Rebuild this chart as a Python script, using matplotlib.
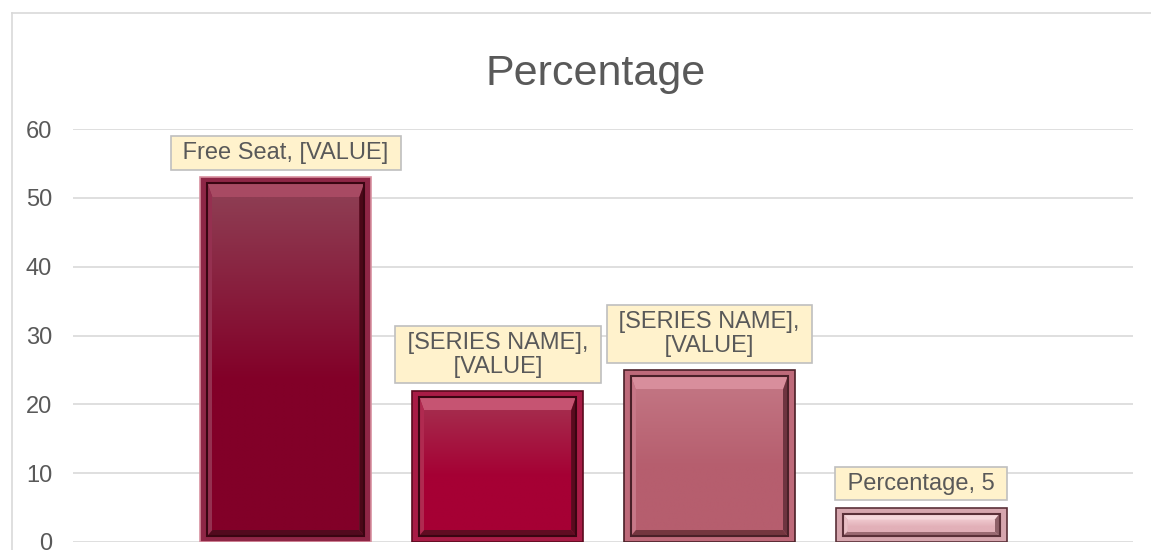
import matplotlib
matplotlib.use('Agg')
import matplotlib.pyplot as plt
import numpy as np
from matplotlib.patches import Rectangle, Polygon
from matplotlib.colors import to_rgb
from matplotlib.lines import Line2D

plt.rcParams['font.family'] = ['Liberation Sans', 'DejaVu Sans']

# ---- data ----
title = 'Percentage'
categories = ['Free Seat', 'Series 2', 'Series 3', 'Percentage']
values = [53, 22, 25, 5]
labels = ['Free Seat, [VALUE]', '[SERIES NAME],\n[VALUE]', '[SERIES NAME],\n[VALUE]', 'Percentage, 5']
yticks = [0, 10, 20, 30, 40, 50, 60]

# ---- styles ----
styles = [
    dict(frame='#8E2646', edge='#D890A0', outline='#3A0512', top='#8E3C52', bottom='#820028',
         bev_top='#A84A63', bev_left='#953050', bev_right='#4A0818', bev_bottom='#520A1E'),
    dict(frame='#A81C46', edge='#5A0A1E', outline='#3A0512', top='#A52A4C', bottom='#A60034',
         bev_top='#C65472', bev_left='#B02A50', bev_right='#5A0A1E', bev_bottom='#600C22'),
    dict(frame='#BE6A7A', edge='#4A2028', outline='#4A2028', top='#C27482', bottom='#B65E6E',
         bev_top='#D88E9C', bev_left='#C87888', bev_right='#6E3440', bev_bottom='#74363F'),
    dict(frame='#D6A6AE', edge='#5A3038', outline='#5A3038', top='#EEC6CC', bottom='#E2B0B8',
         bev_top='#F6D8DC', bev_left='#E8BEC4', bev_right='#8E6068', bev_bottom='#9A6A72'),
]
GRAY = '#595959'

W, H, DPI = 1151, 550, 100
fig = plt.figure(figsize=(W / DPI, H / DPI), dpi=DPI)
fig.patch.set_facecolor('white')

# outer chart border
fig.add_artist(Line2D([12 / W, 12 / W], [0, 1 - 13 / H], transform=fig.transFigure, color='#D9D9D9', lw=1.2))
fig.add_artist(Line2D([12 / W, 1], [1 - 13 / H, 1 - 13 / H], transform=fig.transFigure, color='#D9D9D9', lw=1.2))

ax_l, ax_b, ax_w, ax_h = 73, 8, 1060, 413
ax = fig.add_axes([ax_l / W, ax_b / H, ax_w / W, ax_h / H])
xmin, xmax = -1.005, 4.0
ymin, ymax = 0, 60
pxx = (xmax - xmin) / ax_w
pxy = (ymax - ymin) / ax_h

ax.set_axisbelow(True)
ax.set_yticks(yticks)
ax.yaxis.grid(True, color='#D9D9D9', lw=1.2)
ax.tick_params(axis='y', length=0, pad=15, labelsize=17, labelcolor=GRAY)
ax.set_xticks([])
for s in ax.spines.values():
    s.set_visible(False)

bar_w = 0.807
for i, (v, st) in enumerate(zip(values, styles)):
    x0, x1 = i - bar_w / 2, i + bar_w / 2
    y0, y1 = 0, v
    ax.add_patch(Rectangle((x0, y0), x1 - x0, y1 - y0, facecolor=st['frame'],
                           edgecolor=st['edge'], lw=1.2, zorder=2))
    ix0, ix1 = x0 + 7 * pxx, x1 - 7 * pxx
    iy0, iy1 = y0 + 6 * pxy, y1 - 6 * pxy
    inner_h_px = (iy1 - iy0) / pxy
    t = min(14, 0.28 * inner_h_px)
    b = min(6, 0.2 * inner_h_px)
    l, r = 5, 5
    cx0, cx1 = ix0 + l * pxx, ix1 - r * pxx
    cy0, cy1 = iy0 + b * pxy, iy1 - t * pxy
    ax.add_patch(Polygon([(ix0, iy1), (ix1, iy1), (cx1, cy1), (cx0, cy1)], closed=True,
                         facecolor=st['bev_top'], edgecolor='none', zorder=3))
    ax.add_patch(Polygon([(ix0, iy0), (ix0, iy1), (cx0, cy1), (cx0, cy0)], closed=True,
                         facecolor=st['bev_left'], edgecolor='none', zorder=3))
    ax.add_patch(Polygon([(ix1, iy0), (ix1, iy1), (cx1, cy1), (cx1, cy0)], closed=True,
                         facecolor=st['bev_right'], edgecolor='none', zorder=3))
    ax.add_patch(Polygon([(ix0, iy0), (ix1, iy0), (cx1, cy0), (cx0, cy0)], closed=True,
                         facecolor=st['bev_bottom'], edgecolor='none', zorder=3))
    # gradient centre
    top_c = np.array(to_rgb(st['top']))
    bot_c = np.array(to_rgb(st['bottom']))
    n = 64
    tt = np.linspace(0, 1, n)
    tt = np.clip(tt / 0.55, 0, 1)
    grad = top_c[None, :] * (1 - tt[:, None]) + bot_c[None, :] * tt[:, None]
    img = np.repeat(grad[:, None, :], 2, axis=1)
    ax.imshow(img, extent=(cx0, cx1, cy0, cy1), aspect='auto', origin='upper',
              interpolation='bilinear', zorder=3)
    ax.add_patch(Rectangle((ix0, iy0), ix1 - ix0, iy1 - iy0, facecolor='none',
                           edgecolor=st['outline'], lw=1.5, zorder=4))

for i, (v, lab) in enumerate(zip(values, labels)):
    padded = '\n'.join(' ' + s + ' ' for s in lab.split('\n'))
    ax.annotate(padded, xy=(i, v), xytext=(0, 13), textcoords='offset pixels',
                ha='center', va='bottom', multialignment='center',
                fontsize=17, color=GRAY, linespacing=1.1, zorder=6,
                bbox=dict(boxstyle='square,pad=0.25', facecolor='#FFF2CC',
                          edgecolor='#BFBFBF', lw=1.2))

ax.set_xlim(xmin, xmax)
ax.set_ylim(ymin, ymax)

fig.text(596 / W, 1 - 74 / H, title, ha='center', va='center', fontsize=31, color=GRAY)

fig.savefig('out.png', dpi=DPI, facecolor='white')
